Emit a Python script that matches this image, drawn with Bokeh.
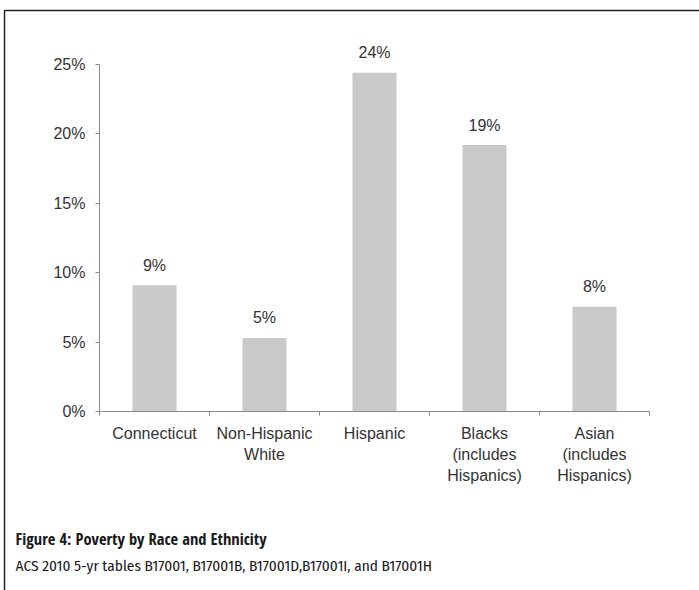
from bokeh.plotting import figure
from bokeh.models import (Range1d, LinearAxis, FixedTicker, NumeralTickFormatter,
                          BoxAnnotation, Label, ColumnDataSource)
from bokeh.core.properties import value
from bokeh.embed import file_html
from bokeh.resources import INLINE

# ---- data ----
categories = ["Connecticut", "Non-Hispanic\nWhite", "Hispanic",
              "Blacks\n(includes\nHispanics)", "Asian\n(includes\nHispanics)"]
poverty_rate = [0.091, 0.053, 0.244, 0.192, 0.0755]
bar_labels = ["9%", "5%", "24%", "19%", "8%"]
y_ticks = [0.0, 0.05, 0.10, 0.15, 0.20, 0.25]
caption_title = "Figure 4: Poverty by Race and Ethnicity"
caption_source = "ACS 2010 5-yr tables B17001, B17001B, B17001D,B17001I, and B17001H"

# ---- layout constants (pixels) ----
W, H = 699, 590
axis_left, axis_right = 99, 649     # pixel columns of x=0 and x=n
zero_px, top_px = 411, 64           # pixel rows of 0% and 25%

n = len(categories)
centers = [i + 0.5 for i in range(n)]
xppu = (axis_right - axis_left) / n
yppu = (zero_px - top_px) / 0.25

# frame covers the whole canvas; axes sit at fixed data locations
p = figure(width=W, height=H, output_backend="svg", toolbar_location=None,
           x_range=Range1d(-axis_left / xppu, n + (W - axis_right) / xppu),
           y_range=Range1d(-(H - zero_px) / yppu, zero_px / yppu),
           x_axis_type=None, y_axis_type=None,
           min_border=0, min_border_left=0, min_border_right=0,
           min_border_top=0, min_border_bottom=0)
p.outline_line_color = None
p.grid.visible = False
p.background_fill_color = "white"
p.border_fill_color = "white"

axis_color = "#8a8a8a"
text_color = "#333333"
font = "Liberation Sans"
fs = "16px"

yaxis = LinearAxis(fixed_location=0, bounds=(0, 0.25), ticker=FixedTicker(ticks=y_ticks),
                   formatter=NumeralTickFormatter(format="0%"))
yaxis.axis_line_color = axis_color
yaxis.major_tick_line_color = axis_color
yaxis.major_tick_out = 4
yaxis.major_tick_in = 0
yaxis.minor_tick_line_color = None
yaxis.major_label_standoff = 10
yaxis.major_label_text_font = font
yaxis.major_label_text_font_size = fs
yaxis.major_label_text_color = text_color
p.add_layout(yaxis, "left")

xaxis = LinearAxis(fixed_location=0, bounds=(0, n),
                   ticker=FixedTicker(ticks=list(range(n + 1))),
                   major_label_overrides={i: "" for i in range(n + 1)})
xaxis.axis_line_color = axis_color
xaxis.major_tick_line_color = axis_color
xaxis.major_tick_out = 4
xaxis.major_tick_in = 0
xaxis.minor_tick_line_color = None
p.add_layout(xaxis, "below")

src = ColumnDataSource(dict(x=centers, top=poverty_rate, lab=bar_labels, cat=categories))
p.vbar(x="x", top="top", bottom=0, width=0.4, source=src,
       fill_color="#c9c9c9", line_color=None)

p.text(x="x", y="top", text="lab", source=src, y_offset=-20,
       text_align="center", text_baseline="middle",
       text_font=value(font), text_font_size=fs, text_color=text_color)

p.text(x="x", y=0, text="cat", source=src, y_offset=13,
       text_align="center", text_baseline="top", text_line_height=1.25,
       text_font=value(font), text_font_size=fs, text_color=text_color)

border = BoxAnnotation(left=4, right=W + 50, top=10, bottom=H + 50,
                       left_units="canvas", right_units="canvas",
                       top_units="canvas", bottom_units="canvas",
                       fill_color=None, fill_alpha=0, line_color="#222222",
                       line_alpha=1.0, line_width=1.5)
p.add_layout(border)

p.add_layout(Label(x=15, y=538, x_units="canvas", y_units="canvas", text=caption_title,
                   text_baseline="middle",
                   text_font="'Open Sans Condensed', 'Roboto Condensed', sans-serif",
                   text_font_style="bold", text_font_size="16.5px", text_color="#1a1a1a"))
p.add_layout(Label(x=15, y=565, x_units="canvas", y_units="canvas", text=caption_source,
                   text_baseline="middle",
                   text_font="'Fira Sans Condensed', 'Roboto Condensed', sans-serif",
                   text_font_size="15.3px", text_color="#1a1a1a"))

open("out.html", "w").write(file_html(p, INLINE))
